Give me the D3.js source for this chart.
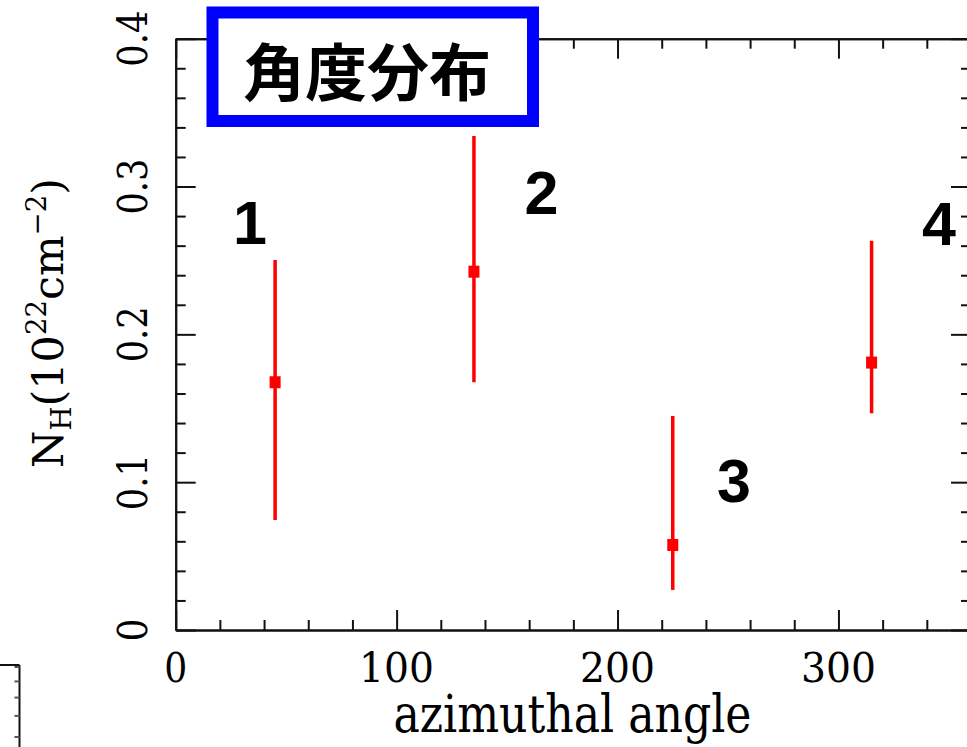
<!DOCTYPE html>
<html><head><meta charset="utf-8">
<script src="https://cdn.jsdelivr.net/npm/d3@7"></script>
<style>html,body{margin:0;padding:0;background:#fff;overflow:hidden}</style>
</head><body>
<svg id="chart" width="967" height="747"></svg>
<script>
// ---- data ----
const angles = [45, 135, 225, 315];
const nhValues = [0.1676, 0.2424, 0.0575, 0.1809];
const nhUpper = [0.2503, 0.3342, 0.1448, 0.2634];
const nhLower = [0.0744, 0.1676, 0.0271, 0.1466];
const regionLabels = ["1", "2", "3", "4"];
const labelAngles = [33.6, 165.6, 252.7, 345.5];
const labelNH = [0.2612, 0.2815, 0.0866, 0.2605];
const xMajorTicks = [0, 100, 200, 300];
const xTickLabels = ["0", "100", "200", "300"];
const yMajorTicks = [0, 0.1, 0.2, 0.3, 0.4];
const yTickLabels = ["0", "0.1", "0.2", "0.3", "0.4"];
const fragTicks = [10, 9, 8, 7, 6];
const titleText = "角度分布";
const xTitle = "azimuthal angle";

// ---- layout ----
const svg = d3.select("#chart");
const L = 175.7, R = 971, T = 38.7, B = 630;
const x = d3.scaleLinear().domain([0, 360]).range([L, R]);
const y = d3.scaleLinear().domain([0, 0.4]).range([B, T]);
const serif = "'DejaVu Serif', 'Liberation Serif', serif";
const axisColor = "#111";

const xMinor = d3.range(0, 361, 20).filter(v => v % 100 !== 0);
const yMinor = d3.range(0, 21, 1).map(i => +(i * 0.02).toFixed(2)).filter(v => Math.abs(v * 10 - Math.round(v * 10)) > 1e-6);

function styleAxis(g) {
  g.selectAll("path.domain").attr("stroke", axisColor).attr("stroke-width", 2);
  g.selectAll(".tick line").attr("stroke", axisColor).attr("stroke-width", 2);
  g.selectAll(".tick text").remove();
}

// bottom
const gB = svg.append("g").attr("transform", `translate(0,${B})`);
gB.append("g").call(d3.axisBottom(x).tickValues(xMinor).tickSize(-10).tickSizeOuter(0).tickFormat("")).call(styleAxis);
gB.append("g").call(d3.axisBottom(x).tickValues(xMajorTicks).tickSize(-20).tickSizeOuter(0).tickFormat("")).call(styleAxis);
// top
const gT = svg.append("g").attr("transform", `translate(0,${T})`);
gT.append("g").call(d3.axisTop(x).tickValues(xMinor).tickSize(-10).tickSizeOuter(0).tickFormat("")).call(styleAxis);
gT.append("g").call(d3.axisTop(x).tickValues(xMajorTicks).tickSize(-20).tickSizeOuter(0).tickFormat("")).call(styleAxis);
// left
const gL = svg.append("g").attr("transform", `translate(${L},0)`);
gL.append("g").call(d3.axisLeft(y).tickValues(yMinor).tickSize(-10).tickSizeOuter(0).tickFormat("")).call(styleAxis);
gL.append("g").call(d3.axisLeft(y).tickValues(yMajorTicks).tickSize(-20).tickSizeOuter(0).tickFormat("")).call(styleAxis);
// right
const gR = svg.append("g").attr("transform", `translate(${R},0)`);
gR.append("g").call(d3.axisRight(y).tickValues(yMinor).tickSize(-10).tickSizeOuter(0).tickFormat("")).call(styleAxis);
gR.append("g").call(d3.axisRight(y).tickValues(yMajorTicks).tickSize(-20).tickSizeOuter(0).tickFormat("")).call(styleAxis);

// x tick labels
svg.append("g").selectAll("text").data(xMajorTicks).join("text")
  .attr("x", d => x(d)).attr("y", B + 52)
  .attr("text-anchor", "middle")
  .attr("font-family", serif).attr("font-size", 41).attr("fill", "#000")
  .attr("textLength", (d, i) => xTickLabels[i].length > 1 ? 75 : 23)
  .attr("lengthAdjust", "spacingAndGlyphs")
  .text((d, i) => xTickLabels[i]);

// y tick labels (rotated)
svg.append("g").selectAll("text").data(yMajorTicks).join("text")
  .attr("transform", d => `translate(147,${y(d)}) rotate(-90)`)
  .attr("text-anchor", "middle")
  .attr("font-family", serif).attr("font-size", 41).attr("fill", "#000")
  .attr("textLength", (d, i) => yTickLabels[i].length > 1 ? 56 : 23)
  .attr("lengthAdjust", "spacingAndGlyphs")
  .text((d, i) => yTickLabels[i]);

// x title
svg.append("text")
  .attr("x", 572.5).attr("y", 732)
  .attr("text-anchor", "middle")
  .attr("font-family", serif).attr("font-size", 52).attr("fill", "#000")
  .attr("textLength", 358).attr("lengthAdjust", "spacingAndGlyphs")
  .text(xTitle);

// y title
const yt = svg.append("text")
  .attr("transform", `translate(63,323) rotate(-90)`)
  .attr("text-anchor", "middle")
  .attr("font-family", serif).attr("font-size", 42).attr("fill", "#000")
  .attr("textLength", 290).attr("lengthAdjust", "spacingAndGlyphs");
yt.append("tspan").text("N");
yt.append("tspan").attr("font-size", 27).attr("dy", 8).text("H");
yt.append("tspan").attr("dy", -8).text("(10");
yt.append("tspan").attr("font-size", 27).attr("dy", -17).text("22");
yt.append("tspan").attr("dy", 17).text("cm");
yt.append("tspan").attr("font-size", 27).attr("dy", -17).text("\u22122");
yt.append("tspan").attr("dy", 17).text(")");

// error bars
const pts = angles.map((a, i) => ({a, v: nhValues[i], lo: nhLower[i], hi: nhUpper[i]}));
const gE = svg.append("g");
gE.selectAll("line").data(pts).join("line")
  .attr("x1", d => x(d.a)).attr("x2", d => x(d.a))
  .attr("y1", d => y(d.lo)).attr("y2", d => y(d.hi))
  .attr("stroke", "#ff0000").attr("stroke-width", 3.5);
gE.selectAll("rect").data(pts).join("rect")
  .attr("x", d => x(d.a) - 5.5).attr("y", d => y(d.v) - 6)
  .attr("width", 11).attr("height", 12)
  .attr("fill", "#ff0000");

// region labels
svg.append("g").selectAll("text").data(regionLabels).join("text")
  .attr("x", (d, i) => x(labelAngles[i])).attr("y", (d, i) => y(labelNH[i]))
  .attr("text-anchor", "middle")
  .attr("font-family", "'Liberation Sans', Arial, sans-serif").attr("font-weight", "bold")
  .attr("font-size", 61).attr("fill", "#000")
  .text(d => d);

// title box
svg.append("rect")
  .attr("x", 212.5).attr("y", 12.5).attr("width", 320.5).attr("height", 108.5)
  .attr("fill", "#fff").attr("stroke", "#0000ff").attr("stroke-width", 12);
svg.append("text")
  .attr("x", 367).attr("y", 95.5).attr("text-anchor", "middle")
  .attr("font-family", "'Noto Sans CJK JP', 'Noto Sans CJK SC', sans-serif")
  .attr("font-weight", 700).attr("font-size", 62).attr("fill", "#000")
  .text(titleText);

// fragment of a neighbouring panel (lower-left corner)
const fy = d3.scaleLog().domain([10, 6]).range([667, 737]);
const gF = svg.append("g");
gF.append("line").attr("x1", 0).attr("x2", 19.5).attr("y1", 665).attr("y2", 665).attr("stroke", axisColor).attr("stroke-width", 2);
gF.append("line").attr("x1", 19.5).attr("x2", 19.5).attr("y1", 665).attr("y2", 747).attr("stroke", axisColor).attr("stroke-width", 2);
gF.selectAll("line.t").data(fragTicks).join("line").attr("class", "t")
  .attr("x1", 14.5).attr("x2", 19.5).attr("y1", d => fy(d)).attr("y2", d => fy(d))
  .attr("stroke", "#555").attr("stroke-width", 2);
</script>
</body></html>
